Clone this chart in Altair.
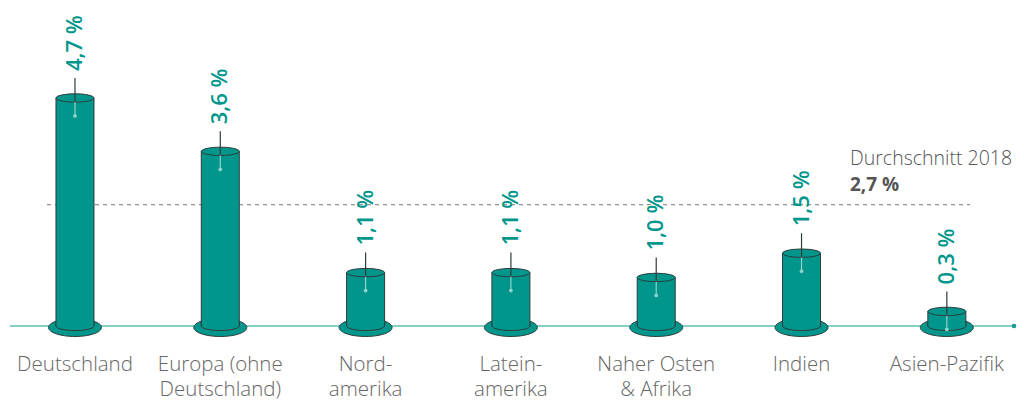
import altair as alt
import pandas as pd

# ---- data ----
regions = ["Deutschland", "Europa (ohne\nDeutschland)", "Nord-\namerika", "Latein-\namerika",
           "Naher Osten\n& Afrika", "Indien", "Asien-Pazifik"]
values = [4.7, 3.6, 1.1, 1.1, 1.0, 1.5, 0.3]
value_labels = ["4,7 %", "3,6 %", "1,1 %", "1,1 %", "1,0 %", "1,5 %", "0,3 %"]
avg_title = "Durchschnitt 2018"
avg_label = "2,7 %"
avg_line_drawn = 2.5  # height at which the dashed average line is drawn in the reference

TEAL = "#00968c"
LIGHT = "#8fd3cb"
DARK = "#2f3b3b"

df = pd.DataFrame({
    "idx": list(range(len(regions))),
    "region": regions,
    "value": values,
    "label": value_labels,
})
df["zero"] = 0.0

xs = alt.Scale(domain=[-0.516, 6.531], nice=False, zero=False)
ys = alt.Scale(domain=[-1.526, 6.72], nice=False, zero=False)

k = 0.5523


def ellipse(r):
    return (f"M -1 0 C -1 {-k*r:.4f} {-k} {-r:.4f} 0 {-r:.4f} C {k} {-r:.4f} 1 {-k*r:.4f} 1 0 "
            f"C 1 {k*r:.4f} {k} {r:.4f} 0 {r:.4f} C {-k} {r:.4f} -1 {k*r:.4f} -1 0 Z")


def half_bottom(r):
    return (f"M -1 -0.2 L -1 0 C -1 {k*r:.4f} {-k} {r:.4f} 0 {r:.4f} "
            f"C {k} {r:.4f} 1 {k*r:.4f} 1 0 L 1 -0.2")


base = alt.Chart(df)
X = alt.X("idx:Q", scale=xs, axis=None)

baseline = alt.Chart(pd.DataFrame({"y": [0.0]})).mark_rule(color="#5cbfb4", strokeWidth=1.5).encode(
    y=alt.Y("y:Q", scale=ys, axis=None), x=alt.value(10), x2=alt.value(1014))
end_dot = alt.Chart(pd.DataFrame({"y": [0.0]})).mark_point(
    filled=True, color="#1a9e92", size=22, opacity=1).encode(
    y=alt.Y("y:Q", scale=ys, axis=None), x=alt.value(1014))

avg_rule = alt.Chart(pd.DataFrame({"y": [avg_line_drawn]})).mark_rule(
    color="#7a7a7a", strokeWidth=1, strokeDash=[4, 4]).encode(
    y=alt.Y("y:Q", scale=ys, axis=None), x=alt.value(47), x2=alt.value(970))

base_ell = base.mark_point(shape=ellipse(0.34), size=53 * 53, filled=True, fill=TEAL, stroke=DARK,
                           strokeWidth=1, opacity=1, fillOpacity=1, strokeOpacity=1, yOffset=1.5).encode(
    x=X, y=alt.Y("zero:Q", scale=ys, axis=None))

body = base.mark_rect(fill=TEAL, stroke=DARK, strokeWidth=1, xOffset=-19, x2Offset=19).encode(
    x=X, x2="idx:Q", y=alt.Y("zero:Q", scale=ys, axis=None), y2="value:Q")

bottom = base.mark_point(shape=half_bottom(0.24), size=38 * 38, filled=True, fill=TEAL, stroke=DARK,
                         strokeWidth=1, opacity=1, fillOpacity=1, strokeOpacity=1).encode(
    x=X, y=alt.Y("zero:Q", scale=ys, axis=None))

top = base.mark_point(shape=ellipse(0.22), size=38 * 38, filled=True, fill=TEAL, stroke=DARK,
                      strokeWidth=1, opacity=1, fillOpacity=1, strokeOpacity=1).encode(
    x=X, y=alt.Y("value:Q", scale=ys, axis=None))

conn_dark = base.mark_rule(color=DARK, strokeWidth=1.2, yOffset=-20, y2Offset=4).encode(
    x=X, y=alt.Y("value:Q", scale=ys, axis=None), y2="value:Q")
conn_light = base.mark_rule(color=LIGHT, strokeWidth=1.2, yOffset=4, y2Offset=18).encode(
    x=X, y=alt.Y("value:Q", scale=ys, axis=None), y2="value:Q")
conn_dot = base.mark_point(filled=True, color=LIGHT, size=14, opacity=1, yOffset=18).encode(
    x=X, y=alt.Y("value:Q", scale=ys, axis=None))

val_text = base.mark_text(angle=270, align="left", baseline="middle", yOffset=-27, font="Open Sans",
                          fontSize=22, fontWeight=600, color=TEAL).encode(
    x=X, y=alt.Y("value:Q", scale=ys, axis=None), text="label:N")

cat_text = base.mark_text(align="center", baseline="top", font="Open Sans", fontSize=20.5, fontWeight=300,
                          color="#666666", lineBreak="\n", lineHeight=25).encode(
    x=X, y=alt.value(355), text="region:N")

avg_t1 = alt.Chart(pd.DataFrame({"t": [avg_title]})).mark_text(
    align="left", baseline="middle", font="Open Sans", fontSize=19.5, fontWeight=300, color="#555555").encode(
    x=alt.value(850), y=alt.value(159), text="t:N")
avg_t2 = alt.Chart(pd.DataFrame({"t": [avg_label]})).mark_text(
    align="left", baseline="middle", font="Open Sans", fontSize=19, fontWeight=700, color="#555555").encode(
    x=alt.value(850), y=alt.value(185), text="t:N")

chart = alt.layer(
    avg_rule, baseline, end_dot, base_ell, body, bottom, top,
    conn_light, conn_dot, conn_dark, val_text, cat_text, avg_t1, avg_t2
).properties(
    width=1024, height=400, padding=0, autosize=alt.AutoSizeParams(type="none")
).configure_view(stroke=None)

chart.save("out.html", embed_options={"renderer": "svg", "actions": False})
